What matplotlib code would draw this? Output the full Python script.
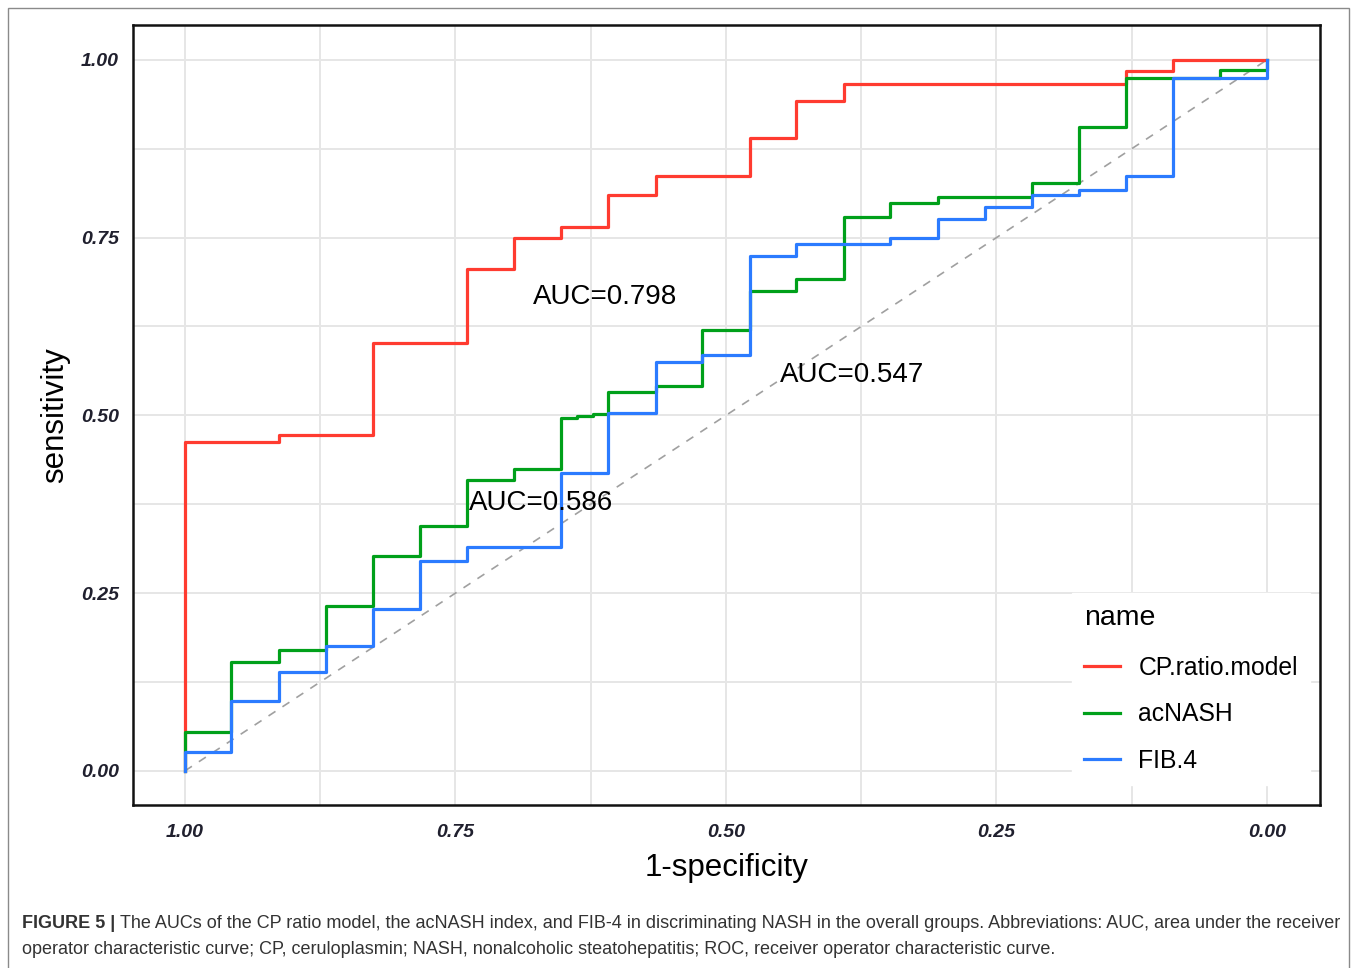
import matplotlib
matplotlib.use('Agg')
import matplotlib.pyplot as plt
from matplotlib.patches import Rectangle
from matplotlib.lines import Line2D

# ROC points (specificity, sensitivity)
cp_spec = [1.000, 1.000, 0.913, 0.826, 0.739, 0.696, 0.652, 0.609, 0.565, 0.478, 0.435, 0.391, 0.130, 0.087, 0.000]
cp_sens = [0.000, 0.463, 0.472, 0.602, 0.706, 0.750, 0.765, 0.810, 0.837, 0.890, 0.942, 0.966, 0.985, 1.000, 1.000]

ac_spec = [1.000, 1.000, 0.957, 0.913, 0.870, 0.826, 0.783, 0.739, 0.696, 0.652, 0.638, 0.623, 0.609,
           0.565, 0.522, 0.478, 0.435, 0.391, 0.348, 0.304, 0.217, 0.174, 0.130, 0.043, 0.000]
ac_sens = [0.000, 0.055, 0.153, 0.170, 0.232, 0.302, 0.345, 0.409, 0.425, 0.496, 0.499, 0.502, 0.533,
           0.541, 0.620, 0.675, 0.692, 0.779, 0.799, 0.807, 0.827, 0.906, 0.975, 0.986, 1.000]

fib_spec = [1.000, 1.000, 0.957, 0.913, 0.870, 0.826, 0.783, 0.739, 0.652, 0.609, 0.565, 0.522, 0.478,
            0.435, 0.348, 0.304, 0.261, 0.217, 0.174, 0.130, 0.087, 0.000]
fib_sens = [0.000, 0.027, 0.098, 0.139, 0.176, 0.228, 0.295, 0.315, 0.419, 0.504, 0.575, 0.585, 0.724,
            0.741, 0.750, 0.776, 0.793, 0.810, 0.817, 0.837, 0.975, 1.000]

names = ['CP.ratio.model', 'acNASH', 'FIB.4']
colors = ['#FF3B30', '#00A01A', '#2B7BFF']
auc_labels = ['AUC=0.798', 'AUC=0.586', 'AUC=0.547']
auc_pos = [(0.612, 0.667), (0.671, 0.377), (0.383, 0.557)]
ticks = [1.00, 0.75, 0.50, 0.25, 0.00]

plt.rcParams['font.family'] = ['Liberation Sans', 'DejaVu Sans']

fig = plt.figure(figsize=(13.57, 9.68), dpi=100)
ax = fig.add_axes([133 / 1357, 1 - 805 / 968, (1320 - 133) / 1357, (805 - 25) / 968])

ax.plot([1, 0], [0, 1], linestyle=(0, (5, 5)), color='#A0A0A0', linewidth=1.2, zorder=1)

curves = [(cp_spec, cp_sens), (ac_spec, ac_sens), (fib_spec, fib_sens)]
for (xs, ys), c, n in zip(curves, colors, names):
    ax.plot(xs, ys, drawstyle='steps-post', color=c, linewidth=2.3, label=n, zorder=3)

for lab, (x, y) in zip(auc_labels, auc_pos):
    ax.text(x, y, lab, fontsize=20, ha='center', va='center', color='black', zorder=4)

ax.set_xlim(1.048, -0.049)
ax.set_ylim(-0.048, 1.049)
ax.set_xticks(ticks)
ax.set_xticklabels(['%.2f' % t for t in ticks])
ax.set_yticks(ticks)
ax.set_yticklabels(['%.2f' % t for t in ticks])
ax.set_xticks([0.875, 0.625, 0.375, 0.125], minor=True)
ax.set_yticks([0.875, 0.625, 0.375, 0.125], minor=True)
ax.grid(True, which='both', color='#E6E6E6', linewidth=1.4)
ax.set_axisbelow(True)
ax.tick_params(which='both', length=0)
ax.tick_params(axis='y', pad=10)
ax.tick_params(axis='x', pad=14)
for lab in ax.get_xticklabels() + ax.get_yticklabels():
    lab.set_fontsize(14)
    lab.set_fontweight('bold')
    lab.set_fontstyle('italic')
    lab.set_color('#20202E')

for sp in ax.spines.values():
    sp.set_linewidth(1.8)
    sp.set_color('#111111')

ax.set_xlabel('1-specificity', fontsize=22.5, labelpad=8)
ax.set_ylabel('sensitivity', fontsize=22.5, labelpad=8)

handles = [Line2D([0], [0], color=c, linewidth=2.3) for c in colors]
leg = ax.legend(handles, names, title='name', loc='lower right',
                bbox_to_anchor=(1.0, 0.013), fontsize=17.8, title_fontsize=20.5,
                frameon=True, facecolor='white', edgecolor='white', framealpha=1,
                handlelength=1.45, handletextpad=0.75, labelspacing=0.9,
                borderpad=0.5, borderaxespad=0.4, alignment='left', fancybox=False)
leg._legend_box.sep = 18
leg.set_zorder(5)

# outer frame around the whole figure
fig.patches.append(Rectangle((8 / 1357, -0.1), (1349 - 8) / 1357, 1.1 - 8 / 968,
                             transform=fig.transFigure, fill=False,
                             edgecolor='#8A8A8A', linewidth=1.0))

# caption
cap_color = '#333333'
cap_size = 13.0
fig.canvas.draw()
renderer = fig.canvas.get_renderer()
t1 = fig.text(22 / 1357, 1 - 924 / 968, 'FIGURE 5 |', fontsize=cap_size, fontweight='bold',
              color=cap_color, ha='left', va='center')
bb = t1.get_window_extent(renderer=renderer)
fig.text((bb.x1 + 5) / 1357, 1 - 924 / 968,
         'The AUCs of the CP ratio model, the acNASH index, and FIB-4 in discriminating NASH in the overall groups. '
         'Abbreviations: AUC, area under the receiver',
         fontsize=cap_size, color=cap_color, ha='left', va='center')
fig.text(22 / 1357, 1 - 949 / 968,
         'operator characteristic curve; CP, ceruloplasmin; NASH, nonalcoholic steatohepatitis; ROC, '
         'receiver operator characteristic curve.',
         fontsize=cap_size, color=cap_color, ha='left', va='center')

fig.savefig('out.png', dpi=100)
